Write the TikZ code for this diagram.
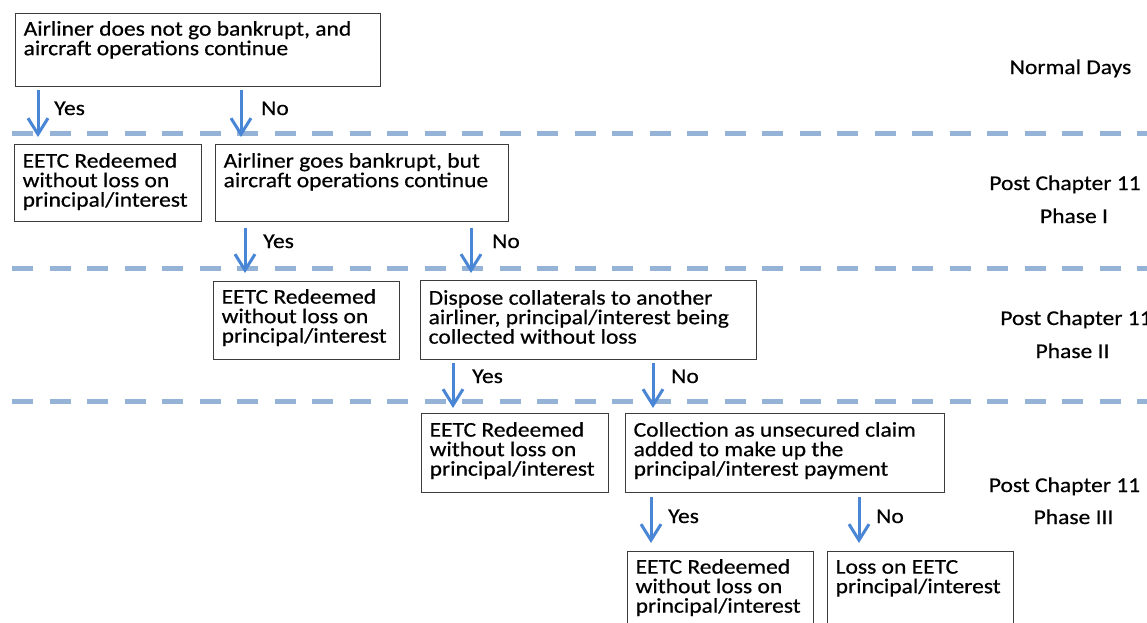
\documentclass[tikz,border=0pt]{standalone}
\usepackage{fontspec}
\setmainfont{Carlito}[FakeStretch=1.12,FakeBold=0.5]
\usetikzlibrary{arrows.meta}
\definecolor{arrowblue}{RGB}{74,134,214}
\definecolor{dashblue}{RGB}{149,179,215}
\definecolor{boxline}{RGB}{60,60,60}
% #1 text width, #2 box height, #3 first-baseline offset, #4 text
\newcommand\boxtxt[4]{\parbox[c][#2][t]{#1}{\lineskiplimit=-100pt\raggedright\rule{0pt}{#3}#4}}
\begin{document}
\begin{tikzpicture}[x=1pt,y=-1pt,
  every node/.style={font=\fontsize{21}{19.5}\selectfont},
  box/.style={draw=boxline, line width=1.3pt, inner xsep=8pt, inner ysep=0pt, anchor=north west},
  arr/.style={draw=arrowblue, line width=3pt, -{Straight Barb[length=16pt,width=20pt]}},
  sep/.style={draw=dashblue, line width=5pt, dash pattern=on 21pt off 16.5pt},
  lbl/.style={anchor=base west, inner sep=0pt},
  phase/.style={anchor=base, inner sep=0pt}]
\useasboundingbox (0,0) rectangle (1147,622);
\clip (0,0) rectangle (1147,622);
\fill[white] (0,0) rectangle (1147,622);
% phase separators
\draw[sep] (12,133) -- (1147,133);
\draw[sep] (12,268) -- (1147,268);
\draw[sep] (12,401) -- (1147,401);
% boxes
\node[box] (B1) at (15,13) {\boxtxt{349pt}{73pt}{22pt}{Airliner does not go bankrupt, and\newline aircraft operations continue}};
\node[box] (E1) at (14,144) {\boxtxt{171pt}{77pt}{23pt}{EETC Redeemed\newline without loss on\newline principal/interest}};
\node[box] (B2) at (215,144) {\boxtxt{277pt}{77pt}{23pt}{Airliner goes bankrupt, but\newline aircraft operations continue}};
\node[box] (E2) at (213,281) {\boxtxt{170pt}{78pt}{22pt}{EETC Redeemed\newline without loss on\newline principal/interest}};
\node[box] (B3) at (420,280) {\boxtxt{320pt}{79pt}{24pt}{Dispose collaterals to another\newline airliner, principal/interest being\newline collected without loss}};
\node[box] (E3) at (421,413) {\boxtxt{171pt}{79pt}{23pt}{EETC Redeemed\newline without loss on\newline principal/interest}};
\node[box] (B4) at (625,413) {\boxtxt{303pt}{79pt}{23pt}{Collection as unsecured claim\newline added to make up the\newline principal/interest payment}};
\node[box] (E4) at (627,551) {\boxtxt{170pt}{90pt}{22pt}{EETC Redeemed\newline without loss on\newline principal/interest}};
\node[box] (L4) at (827,551) {\boxtxt{170pt}{90pt}{22pt}{Loss on EETC\newline principal/interest}};
% arrows
\draw[arr] ([xshift=23pt,yshift=-3pt]B1.south west) -- ([xshift=24pt,yshift=7pt]E1.north west);
\draw[arr] ([xshift=226pt,yshift=-3pt]B1.south west) -- ([xshift=26pt,yshift=7pt]B2.north west);
\draw[arr] ([xshift=30pt,yshift=-6pt]B2.south west) -- ([xshift=32pt,yshift=8pt]E2.north west);
\draw[arr] ([xshift=256pt,yshift=-6pt]B2.south west) -- ([xshift=51pt,yshift=7pt]B3.north west);
\draw[arr] ([xshift=33pt,yshift=-3pt]B3.south west) -- ([xshift=32pt,yshift=5pt]E3.north west);
\draw[arr] ([xshift=233pt,yshift=-3pt]B3.south west) -- ([xshift=28pt,yshift=5pt]B4.north west);
\draw[arr] ([xshift=26pt,yshift=-4pt]B4.south west) -- ([xshift=24pt,yshift=8pt]E4.north west);
\draw[arr] ([xshift=234pt,yshift=-4pt]B4.south west) -- ([xshift=32pt,yshift=8pt]L4.north west);
% yes / no labels
\node[lbl] (y1) at (54,115) {Yes};
\node[lbl] (n1) at (261,115) {No};
\node[lbl] (y2) at (263,248) {Yes};
\node[lbl] (n2) at (492,248) {No};
\node[lbl] (y3) at (472,383) {Yes};
\node[lbl] (n3) at (671,383) {No};
\node[lbl] (y4) at (668,523) {Yes};
\node[lbl] (n4) at (876,523) {No};
% phase labels
\node[phase] (p0) at (1070.5,74) {Normal Days};
\node[phase] (p1a) at (1065,190) {Post Chapter 11};
\node[phase] (p1b) at (1074,223) {Phase I};
\node[phase] (p2a) at (1076,325) {Post Chapter 11};
\node[phase] (p2b) at (1072.5,358) {Phase II};
\node[phase] (p3a) at (1064.5,492) {Post Chapter 11};
\node[phase] (p3b) at (1073.5,524) {Phase III};
\end{tikzpicture}
\end{document}
